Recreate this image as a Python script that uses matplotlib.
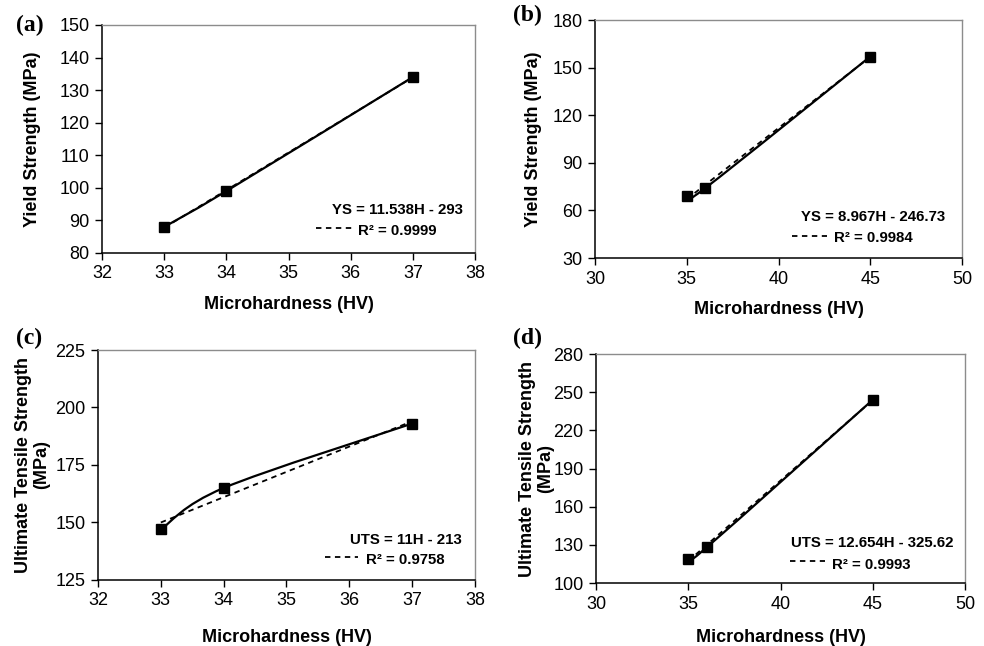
import numpy as np
import matplotlib
matplotlib.use("Agg")
import matplotlib.pyplot as plt
from matplotlib.path import Path
from matplotlib.patches import PathPatch

plt.rcParams['font.family'] = ['Liberation Sans', 'DejaVu Sans']

# Measured data (microhardness HV vs strength MPa)
hv_ab = [33, 34, 37]
ys_a = [88, 99, 134]
uts_c = [147, 165, 193]
hv_bd = [35, 36, 45]
ys_b = [69, 74, 157]
uts_d = [119, 128, 244]

# Linear trendline coefficients (slope, intercept) and R^2
fit_a = (11.538, -293.0, 0.9999)
fit_b = (8.967, -246.73, 0.9984)
fit_c = (11.0, -213.0, 0.9758)
fit_d = (12.654, -325.62, 0.9993)

xticks_ab = [32, 33, 34, 35, 36, 37, 38]
xticks_bd = [30, 35, 40, 45, 50]
yticks_a = [80, 90, 100, 110, 120, 130, 140, 150]
yticks_b = [30, 60, 90, 120, 150, 180]
yticks_c = [125, 150, 175, 200, 225]
yticks_d = [100, 130, 160, 190, 220, 250, 280]


def smooth_path(xs, ys):
    # excel-style smoothed line: Catmull-Rom through the points, as bezier
    p = np.column_stack([xs, ys]).astype(float)
    n = len(p)
    verts = [p[0]]
    codes = [Path.MOVETO]
    for i in range(n - 1):
        p0 = p[i - 1] if i > 0 else p[i]
        p3 = p[i + 2] if i + 2 < n else p[i + 1]
        c1 = p[i] + (p[i + 1] - p0) / 6.0
        c2 = p[i + 1] - (p3 - p[i]) / 6.0
        verts += [c1, c2, p[i + 1]]
        codes += [Path.CURVE4] * 3
    return Path(verts, codes)


def panel(ax, xs, ys, fit, xticks, yticks, ylabel, eq_name, txt, ylab_x, xlab_y):
    slope, icpt, r2 = fit
    xl = np.array([min(xs), max(xs)], dtype=float)
    ax.plot(xl, slope * xl + icpt, color='black', lw=1.3, ls=(0, (3, 2.5)))
    ax.add_patch(PathPatch(smooth_path(xs, ys), fill=False, ec='black', lw=1.6))
    ax.plot(xs, ys, ls='none', marker='s', ms=6.5, color='black')
    ax.set_xlim(xticks[0], xticks[-1])
    ax.set_ylim(yticks[0], yticks[-1])
    ax.set_xticks(xticks)
    ax.set_yticks(yticks)
    ax.tick_params(direction='out', length=5, width=1, labelsize=13, color='black', pad=4)
    for s in ['left', 'bottom']:
        ax.spines[s].set_color('black')
        ax.spines[s].set_linewidth(1.1)
    for s in ['top', 'right']:
        ax.spines[s].set_color('#8c8c8c')
        ax.spines[s].set_linewidth(1.0)
    ax.set_xlabel('Microhardness (HV)', fontsize=13, fontweight='bold')
    ax.set_ylabel(ylabel, fontsize=13, fontweight='bold', linespacing=1.05)
    ax.xaxis.set_label_coords(0.5, xlab_y)
    ax.yaxis.set_label_coords(ylab_x, 0.5)
    # equation annotation with legend dash
    eq_x, eq_y, r_x, r_y, d0, d1, dy = txt
    sign = '-' if icpt < 0 else '+'
    ax.text(eq_x, eq_y, '%s = %gH %s %g' % (eq_name, slope, sign, abs(icpt)),
            transform=ax.transAxes, ha='right', va='center', fontsize=10.8, fontweight='bold')
    ax.text(r_x, r_y, 'R\u00b2 = %.4f' % r2, transform=ax.transAxes,
            ha='right', va='center', fontsize=10.8, fontweight='bold')
    ax.plot([d0, d1], [dy, dy], transform=ax.transAxes, color='black', lw=1.3, ls=(0, (3, 2.5)))


fig = plt.figure(figsize=(9.84, 6.46), dpi=100)
ax_a = fig.add_axes([0.1037, 0.6084, 0.379, 0.353])
ax_b = fig.add_axes([0.6047, 0.6006, 0.373, 0.3684])
ax_c = fig.add_axes([0.0996, 0.1022, 0.383, 0.356])
ax_d = fig.add_axes([0.6057, 0.0975, 0.375, 0.3545])

panel(ax_a, hv_ab, ys_a, fit_a, xticks_ab, yticks_a, 'Yield Strength (MPa)', 'YS',
      (0.968, 0.189, 0.898, 0.096, 0.574, 0.670, 0.110), -0.164, -0.189)
panel(ax_b, hv_bd, ys_b, fit_b, xticks_bd, yticks_b, 'Yield Strength (MPa)', 'YS',
      (0.954, 0.172, 0.866, 0.084, 0.537, 0.632, 0.092), -0.144, -0.181)
panel(ax_c, hv_ab, uts_c, fit_c, xticks_ab, yticks_c, 'Ultimate Tensile Strength\n(MPa)', 'UTS',
      (0.965, 0.174, 0.920, 0.087, 0.602, 0.690, 0.100), -0.127, -0.213)
panel(ax_d, hv_bd, uts_d, fit_d, xticks_bd, yticks_d, 'Ultimate Tensile Strength\n(MPa)', 'UTS',
      (0.970, 0.175, 0.851, 0.079, 0.526, 0.620, 0.096), -0.114, -0.201)

for lab, x, y in [('(a)', 16, 25), ('(b)', 513, 15), ('(c)', 16, 338), ('(d)', 513, 338)]:
    fig.text(x / 984, 1 - y / 646, lab, ha='left', va='center', fontsize=17,
             fontweight='bold', family='Liberation Serif')

fig.savefig('out.png', dpi=100, facecolor='white')
